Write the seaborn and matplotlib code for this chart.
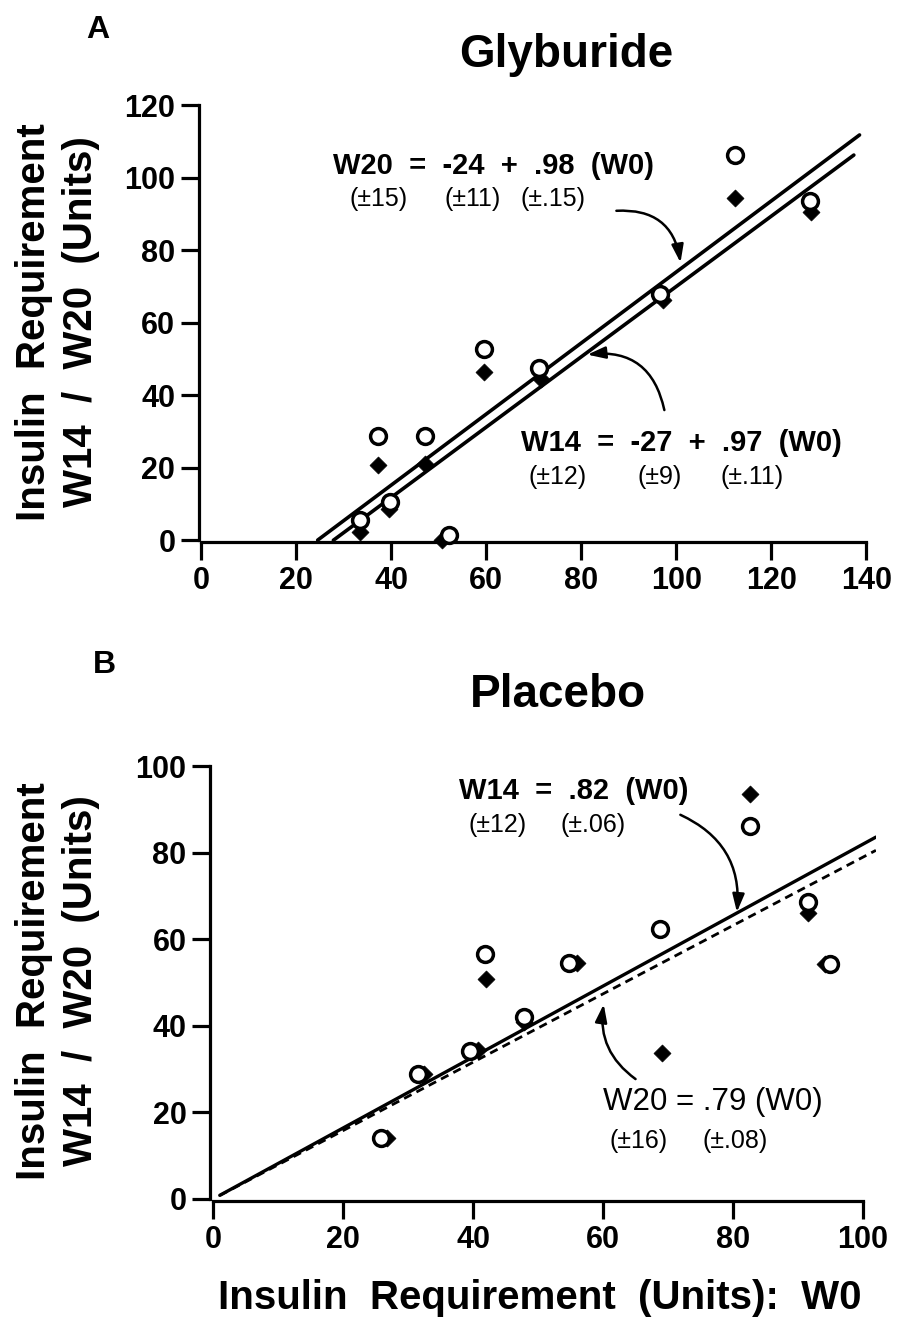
import numpy as np
import pandas as pd
import matplotlib
matplotlib.use("Agg")
import matplotlib.pyplot as plt
import seaborn as sns

# ---------------- data ----------------
# Panel A: Glyburide
gly_w0_w14 = [33.5, 37.2, 39.5, 47.2, 50.7, 59.5, 71.6, 97.2, 112.4, 128.4]
gly_w14 = [2.3, 20.7, 8.6, 20.9, 0.0, 46.4, 44.5, 66.4, 94.5, 90.5]
gly_w0_w20 = [33.5, 37.2, 39.7, 47.2, 52.1, 59.5, 71.2, 96.6, 112.4, 128.2]
gly_w20 = [5.5, 28.8, 10.5, 28.8, 1.4, 52.7, 47.5, 68.0, 106.4, 93.6]
gly_fit_w20 = (-24.0, 0.98)
gly_fit_w14 = (-27.0, 0.97)
gly_range_w20 = [24.5, 138.6]
gly_range_w14 = [27.8, 137.4]

# Panel B: Placebo
pla_w0_w14 = [26.8, 32.4, 40.7, 42.0, 47.8, 56.0, 69.0, 82.6, 91.5, 94.2]
pla_w14 = [14.0, 28.8, 34.5, 50.8, 40.9, 54.5, 33.7, 93.7, 66.1, 54.3]
pla_w0_w20 = [25.8, 31.5, 39.5, 41.9, 47.8, 54.8, 68.8, 82.6, 91.5, 95.0]
pla_w20 = [14.0, 28.8, 34.3, 56.7, 42.0, 54.5, 62.3, 86.1, 68.6, 54.3]
pla_fit_w14 = (0.0, 0.82)
pla_fit_w20 = (0.0, 0.79)
pla_range = [1.0, 102.0]

gly_xticks = [0, 20, 40, 60, 80, 100, 120, 140]
gly_yticks = [0, 20, 40, 60, 80, 100, 120]
pla_xticks = [0, 20, 40, 60, 80, 100]
pla_yticks = [0, 20, 40, 60, 80, 100]

# ---------------- style ----------------
sns.set_theme(style="ticks")
plt.rcParams["font.family"] = ["Liberation Sans", "DejaVu Sans"]
plt.rcParams["text.color"] = "black"
plt.rcParams["axes.labelcolor"] = "black"
plt.rcParams["xtick.color"] = "black"
plt.rcParams["ytick.color"] = "black"

fig = plt.figure(figsize=(9.06, 13.28), dpi=100)
axA = fig.add_axes([0.2196, 0.5919, 0.7417, 0.3315])
axB = fig.add_axes([0.2318, 0.0956, 0.7350, 0.3306])


def fit_df(rng, coef):
    x = np.array(rng, dtype=float)
    return pd.DataFrame({"x": x, "y": coef[0] + coef[1] * x})


def style_axes(ax, xt, yt, xlim, ylim):
    ax.set_xlim(*xlim)
    ax.set_ylim(*ylim)
    ax.set_xticks(xt)
    ax.set_yticks(yt)
    ax.set_xticklabels([str(v) for v in xt], fontweight="bold", fontsize=22)
    ax.set_yticklabels([str(v) for v in yt], fontweight="bold", fontsize=22)
    for s in ["top", "right"]:
        ax.spines[s].set_visible(False)
    for s in ["left", "bottom"]:
        ax.spines[s].set_linewidth(2.3)
        ax.spines[s].set_color("black")
    ax.spines["left"].set_bounds(0, yt[-1])
    ax.spines["bottom"].set_bounds(0, xt[-1])
    ax.tick_params(axis="both", direction="out", length=13, width=2.3, color="black",
                   pad=4, labelcolor="black")
    ax.set_xlabel("")
    ax.set_ylabel("")
    ax.patch.set_alpha(0)


def draw_points(ax, xd, yd, xo, yo):
    sns.scatterplot(x=xd, y=yd, ax=ax, marker="D", s=75, color="black",
                    edgecolor="black", linewidth=0.5, zorder=4, clip_on=False)
    sns.scatterplot(x=xo, y=yo, ax=ax, marker="o", s=130, facecolor="white",
                    edgecolor="black", linewidth=2.5, zorder=5, clip_on=False)


arrow_kw = dict(arrowstyle="-|>,head_length=0.9,head_width=0.3", color="black", lw=1.8,
                shrinkA=0, shrinkB=0)
EQ = 21
SUB = 18

# ---------------- Panel A ----------------
sns.lineplot(data=fit_df(gly_range_w20, gly_fit_w20), x="x", y="y", ax=axA,
             color="black", lw=2.6, zorder=3)
sns.lineplot(data=fit_df(gly_range_w14, gly_fit_w14), x="x", y="y", ax=axA,
             color="black", lw=2.6, zorder=3)
draw_points(axA, gly_w0_w14, gly_w14, gly_w0_w20, gly_w20)
style_axes(axA, gly_xticks, gly_yticks, (-0.5, 141), (-0.5, 121))

axA.text(27.7, 103.2, "W20  =  -24  +  .98  (W0)", fontweight="bold",
         fontsize=EQ, ha="left", va="center")
for xx, t in zip([37.4, 57.2, 74.1], ["(±15)", "(±11)", "(±.15)"]):
    axA.text(xx, 94.1, t, fontsize=SUB, ha="center", va="center")
axA.text(67.4, 26.8, "W14  =  -27  +  .97  (W0)", fontweight="bold",
         fontsize=EQ, ha="left", va="center")
for xx, t in zip([75.1, 96.4, 116.0], ["(±12)", "(±9)", "(±.11)"]):
    axA.text(xx, 17.3, t, fontsize=SUB, ha="center", va="center")
axA.annotate("", xy=(100.9, 76.6), xytext=(87.4, 90.9),
             arrowprops=dict(connectionstyle="arc3,rad=-0.45", **arrow_kw))
axA.annotate("", xy=(81.3, 51.2), xytext=(97.5, 35.9),
             arrowprops=dict(connectionstyle="arc3,rad=0.45", **arrow_kw))

# ---------------- Panel B ----------------
sns.lineplot(data=fit_df(pla_range, pla_fit_w14), x="x", y="y", ax=axB,
             color="black", lw=2.4, zorder=3)
sns.lineplot(data=fit_df(pla_range, pla_fit_w20), x="x", y="y", ax=axB,
             color="black", lw=2.0, linestyle=(0, (3, 2)), zorder=3)
draw_points(axB, pla_w0_w14, pla_w14, pla_w0_w20, pla_w20)
style_axes(axB, pla_xticks, pla_yticks, (-0.5, 102), (-0.5, 101))

axB.text(37.9, 94.3, "W14  =  .82  (W0)", fontweight="bold",
         fontsize=EQ, ha="left", va="center")
for xx, t in zip([43.7, 58.4], ["(±12)", "(±.06)"]):
    axB.text(xx, 86.4, t, fontsize=SUB, ha="center", va="center")
axB.text(60.0, 22.3, "W20 = .79 (W0)", fontsize=22.5, ha="left", va="center")
for xx, t in zip([65.5, 80.4], ["(±16)", "(±.08)"]):
    axB.text(xx, 13.3, t, fontsize=SUB, ha="center", va="center")
axB.annotate("", xy=(80.6, 66.3), xytext=(71.9, 88.8),
             arrowprops=dict(connectionstyle="arc3,rad=-0.35", **arrow_kw))
axB.annotate("", xy=(60.1, 45.0), xytext=(65.0, 27.7),
             arrowprops=dict(connectionstyle="arc3,rad=-0.3", **arrow_kw))

# ---------------- figure texts ----------------
fig.text(98 / 906, 1 - 30 / 1328, "A", fontweight="bold", fontsize=23, ha="center", va="center")
fig.text(566 / 906, 1 - 55 / 1328, "Glyburide", fontweight="bold", fontsize=33,
         ha="center", va="center")
fig.text(104 / 906, 1 - 665 / 1328, "B", fontweight="bold", fontsize=23, ha="center", va="center")
fig.text(558 / 906, 1 - 695 / 1328, "Placebo", fontweight="bold", fontsize=33,
         ha="center", va="center")

for yc in [1 - 322 / 1328, 1 - 981 / 1328]:
    fig.text(34 / 906, yc, "Insulin  Requirement", fontweight="bold", fontsize=29,
             rotation=90, ha="center", va="center")
    fig.text(81 / 906, yc, "W14  /  W20  (Units)", fontweight="bold", fontsize=29,
             rotation=90, ha="center", va="center")

fig.text(540 / 906, 1 - 1298 / 1328, "Insulin  Requirement  (Units):  W0",
         fontweight="bold", fontsize=29, ha="center", va="center")

fig.savefig("out.png", dpi=100, facecolor="white")
